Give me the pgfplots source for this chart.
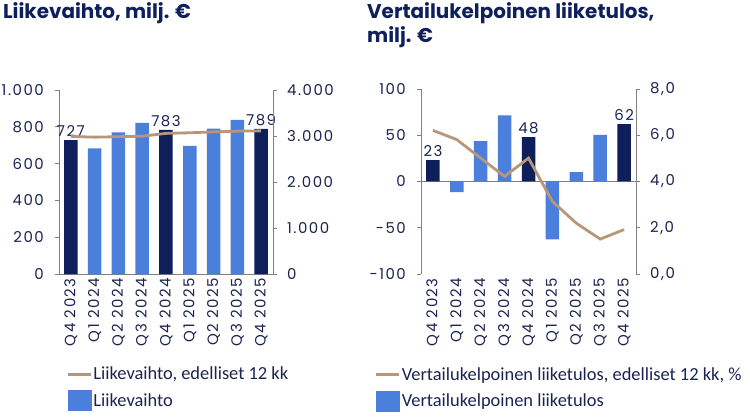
\documentclass[border=0pt]{standalone}
\usepackage{pgfplots}
\pgfplotsset{compat=1.18}
\usepackage{fontspec}
\setmainfont{Poppins}
\newfontfamily\tickfont{Poppins}[LetterSpace=10]
\newfontfamily\legfont{Carlito}
\definecolor{navy}{HTML}{0E1F5B}
\definecolor{barblue}{HTML}{4A7FDB}
\definecolor{tanline}{HTML}{B8967A}
\definecolor{txt}{HTML}{1A2352}
\definecolor{axgray}{HTML}{808080}

\pgfplotsset{
  base/.style={
    scale only axis, xmin=-0.5, xmax=8.5, clip=false,
    tick label style={font=\tickfont\fontsize{15}{16}\selectfont, text=txt},
    /pgf/number format/assume math mode=true,
    axis line style={axgray, line width=0.9bp},
    every tick/.style={axgray, line width=0.9bp},
    tick align=outside, major tick length=4bp,
  },
  primary/.style={base,
    axis y line*=left, axis x line*=bottom,
    xtick={0,...,8}, xtick style={draw=none},
    xticklabels={Q4 2023,Q1 2024,Q2 2024,Q3 2024,Q4 2024,Q1 2025,Q2 2025,Q3 2025,Q4 2025},
    xticklabel style={rotate=90, anchor=east, inner sep=0pt},
    yticklabel style={inner sep=0pt, xshift=-11bp},
  },
  secondary/.style={base,
    axis y line*=right, axis x line=none,
    yticklabel style={inner sep=0pt, xshift=10bp},
    legend style={draw=none, fill=none, anchor=north west,
      font=\legfont\fontsize{18.5}{20}\selectfont, text=txt,
      inner sep=0pt, row sep=8bp,
      nodes={inner sep=1bp, anchor=west},
      /tikz/every even column/.append style={column sep=3bp}},
    legend cell align=left,
  },
  navybar/.style={ybar, bar width=13.5bp, bar shift=0pt, fill=navy, draw=none},
  bluebar/.style={ybar, bar width=13.5bp, bar shift=0pt, fill=barblue, draw=none},
  trend/.style={tanline, line width=2.8bp, no marks,
    legend image code/.code={\draw[tanline, line width=2.8bp] (0bp,0bp) -- (23bp,0bp);}},
  barleg/.style={legend image code/.code={\fill[barblue] (0bp,-10bp) rectangle (23bp,10bp);}},
}

\begin{document}
\begin{tikzpicture}
\useasboundingbox (0bp,0bp) rectangle (750bp,418bp);
\node[anchor=base west, inner sep=0pt, text=navy, font=\bfseries\fontsize{20}{22}\selectfont] at (3bp,399bp) {Liikevaihto, milj. €};
\node[anchor=base west, inner sep=0pt, text=navy, font=\bfseries\fontsize{20}{22}\selectfont] at (367bp,399bp) {Vertailukelpoinen liiketulos,};
\node[anchor=base west, inner sep=0pt, text=navy, font=\bfseries\fontsize{20}{22}\selectfont] at (367bp,375bp) {milj. €};

% ---------- left chart ----------
\begin{axis}[primary, at={(59bp,144bp)}, anchor=south west, width=214bp, height=184bp,
  ymin=0, ymax=1000, ytick={0,200,...,1000},
  /pgf/number format/1000 sep={.},
  nodes near coords style={font=\tickfont\fontsize{15}{16}\selectfont, text=txt}]
\addplot[bluebar] coordinates {(1,683) (2,770) (3,821) (5,696) (6,790) (7,837)};
\addplot[navybar, nodes near coords] coordinates {(0,727) (4,783) (8,789)};
\end{axis}
\begin{axis}[secondary, at={(59bp,144bp)}, anchor=south west, width=214bp, height=184bp,
  ymin=0, ymax=4000, ytick={0,1000,...,4000},
  /pgf/number format/1000 sep={.},
  legend style={at={(0.035,-0.50)}}]
\addplot[trend] coordinates {(0,2990) (1,2975) (2,2985) (3,2995) (4,3057) (5,3070) (6,3090) (7,3106) (8,3112)};
\addlegendentry{Liikevaihto, edelliset 12 kk}
\addlegendimage{barleg}
\addlegendentry{Liikevaihto}
\end{axis}

% ---------- right chart ----------
\begin{axis}[primary, at={(421bp,144bp)}, anchor=south west, width=215bp, height=185bp,
  ymin=-100, ymax=100, ytick={-100,-50,0,50,100},
  x axis line style={draw=none},
  extra y ticks={0}, extra y tick labels={},
  extra y tick style={grid=major, major grid style={axgray, line width=0.9bp}},
  nodes near coords style={font=\tickfont\fontsize{15}{16}\selectfont, text=txt}]
\addplot[bluebar] coordinates {(1,-11.5) (2,43.7) (3,71.5) (5,-62.5) (6,10) (7,50.5)};
\addplot[navybar, nodes near coords] coordinates {(0,23) (4,48) (8,62)};
\end{axis}
\begin{axis}[secondary, at={(421bp,144bp)}, anchor=south west, width=215bp, height=185bp,
  ymin=0, ymax=8, ytick={0,2,...,8},
  yticklabel style={/pgf/number format/.cd, fixed, fixed zerofill, precision=1, use comma},
  legend style={at={(-0.215,-0.50)}}]
\addplot[trend] coordinates {(0,6.21) (1,5.81) (2,5.01) (3,4.22) (4,5.01) (5,3.14) (6,2.2) (7,1.51) (8,1.92)};
\addlegendentry{Vertailukelpoinen liiketulos, edelliset 12 kk, \%}
\addlegendimage{barleg}
\addlegendentry{Vertailukelpoinen liiketulos}
\end{axis}
\end{tikzpicture}
\end{document}
